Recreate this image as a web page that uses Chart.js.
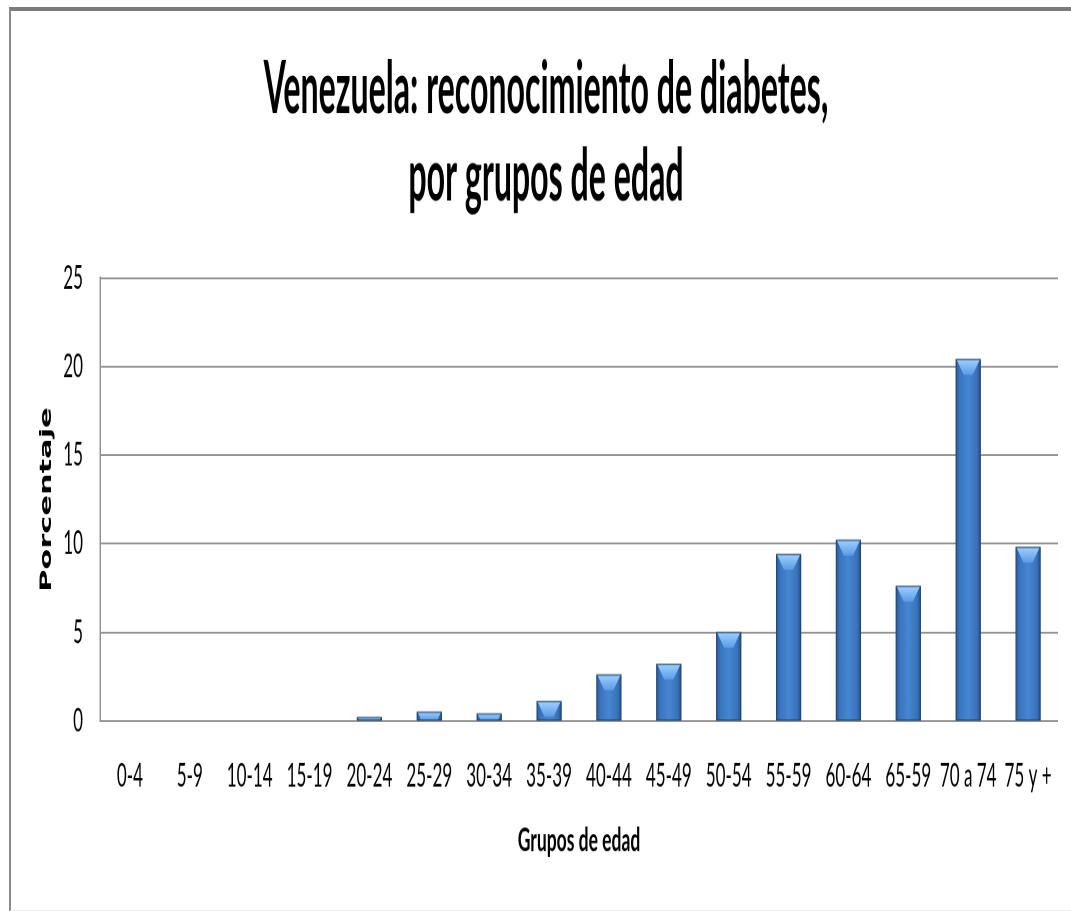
<!DOCTYPE html>
<html>
<head>
<meta charset="utf-8">
<script src="https://cdn.jsdelivr.net/npm/chart.js@4.4.0/dist/chart.umd.min.js"></script>
<style>
  body { margin: 0; background: #fff; width: 1071px; height: 911px; overflow: hidden; position: relative; }
  #frame { position: absolute; left: 9px; top: 7px; width: 1062px; height: 904px; box-sizing: border-box;
           border-left: 2px solid #8c8c8c; border-top: 4px solid #7b7b7b; border-bottom: 1px solid #ececec; }
  /* the original picture is stretched vertically, so draw flat and stretch */
  #wrap { position: absolute; left: 0; top: 0; width: 1071px; height: 480px; transform: scaleY(1.9); transform-origin: 0 0; }
</style>
</head>
<body>
<div id="frame"></div>
<div id="wrap"><canvas id="chart"></canvas></div>
<script>
const categories = ['0-4', '5-9', '10-14', '15-19', '20-24', '25-29', '30-34', '35-39',
                    '40-44', '45-49', '50-54', '55-59', '60-64', '65-59', '70 a 74', '75 y +'];
const percentages = [0, 0, 0, 0, 0.2, 0.5, 0.4, 1.1, 2.6, 3.2, 5.0, 9.4, 10.2, 7.6, 20.4, 9.8];
const yTicks = [0, 5, 10, 15, 20, 25];
const titleLines = ['Venezuela: reconocimiento de diabetes,', 'por grupos de edad'];
const xTitle = 'Grupos de edad';
const yTitle = 'Porcentaje';

// title is narrower/taller than the other text, so draw it squeezed
const squeezedTitle = {
    id: 'squeezedTitle',
    afterDraw(chart) {
        const ctx = chart.ctx;
        const baselines = [59.5, 105.3];
        ctx.save();
        ctx.fillStyle = '#000';
        ctx.font = 'bold 38px Lato';
        ctx.textAlign = 'center';
        ctx.textBaseline = 'alphabetic';
        titleLines.forEach((line, i) => {
            ctx.save();
            ctx.translate(546, baselines[i]);
            ctx.scale(0.845, 1);
            ctx.fillText(line, 0, 0);
            ctx.restore();
        });
        ctx.restore();
    }
};

// repaint each bar with the shaded look + light bevel on top
const bevelBars = {
    id: 'bevelBars',
    afterDatasetsDraw(chart) {
        const ctx = chart.ctx;
        chart.getDatasetMeta(0).data.forEach(bar => {
            const { x, y, base, width } = bar.getProps(['x', 'y', 'base', 'width'], true);
            const h = base - y;
            if (h <= 0) return;
            const l = x - width / 2, r = x + width / 2;
            ctx.save();
            const g = ctx.createLinearGradient(l, 0, r, 0);
            g.addColorStop(0, '#29558e');
            g.addColorStop(0.15, '#3a74bd');
            g.addColorStop(0.5, '#4686d3');
            g.addColorStop(0.85, '#3a72b9');
            g.addColorStop(1, '#234c82');
            ctx.fillStyle = g;
            ctx.fillRect(l, y, width, h);
            const bh = Math.min(8, h);
            const inset = Math.min(7, width * 0.3) * (bh / 8);
            const bg = ctx.createLinearGradient(0, y, 0, y + bh);
            bg.addColorStop(0, '#9fd0ff');
            bg.addColorStop(1, '#5b9be6');
            ctx.fillStyle = bg;
            ctx.beginPath();
            ctx.moveTo(l + 1, y);
            ctx.lineTo(r - 1, y);
            ctx.lineTo(r - 1 - inset, y + bh);
            ctx.lineTo(l + 1 + inset, y + bh);
            ctx.closePath();
            ctx.fill();
            ctx.strokeStyle = 'rgba(30,60,100,0.55)';
            ctx.lineWidth = 1;
            ctx.strokeRect(l + 0.5, y, width - 1, h);
            ctx.restore();
        });
    }
};

const ctx = document.getElementById('chart').getContext('2d');
new Chart(ctx, {
    type: 'bar',
    data: {
        labels: categories,
        datasets: [{
            data: percentages,
            backgroundColor: '#3f7fcb',
            categoryPercentage: 1,
            barPercentage: 0.42
        }]
    },
    options: {
        responsive: true,
        maintainAspectRatio: false,
        devicePixelRatio: 2,
        animation: false,
        layout: { padding: { left: 0, right: 13, top: 146.3, bottom: 0 } },
        plugins: {
            legend: { display: false },
            tooltip: { enabled: false },
            title: { display: false }
        },
        scales: {
            x: {
                grid: { display: false, drawTicks: false },
                border: { display: false },
                ticks: { color: '#000', padding: 19, maxRotation: 0, autoSkip: false,
                         font: { family: 'Lato', size: 17 } },
                title: { display: true, text: xTitle, color: '#000',
                         font: { family: 'Lato', size: 17.5, weight: 'bold' },
                         padding: { top: 0, bottom: 27 } },
                afterFit(scale) { scale.height = 100.5; }
            },
            y: {
                min: 0,
                max: 25,
                afterBuildTicks(scale) { scale.ticks = yTicks.map(v => ({ value: v })); },
                grid: { color: '#939393', lineWidth: 1, drawTicks: false },
                border: { color: '#939393', width: 1.5 },
                ticks: { color: '#000', padding: 17, font: { family: 'Lato', size: 17 } },
                title: { display: true, text: yTitle, color: '#000',
                         font: { family: 'DejaVu Sans', size: 16, weight: 'bold' },
                         padding: { top: 37, bottom: 0 } },
                afterFit(scale) { scale.width = 100; }
            }
        }
    },
    plugins: [bevelBars, squeezedTitle]
});
</script>
</body>
</html>
